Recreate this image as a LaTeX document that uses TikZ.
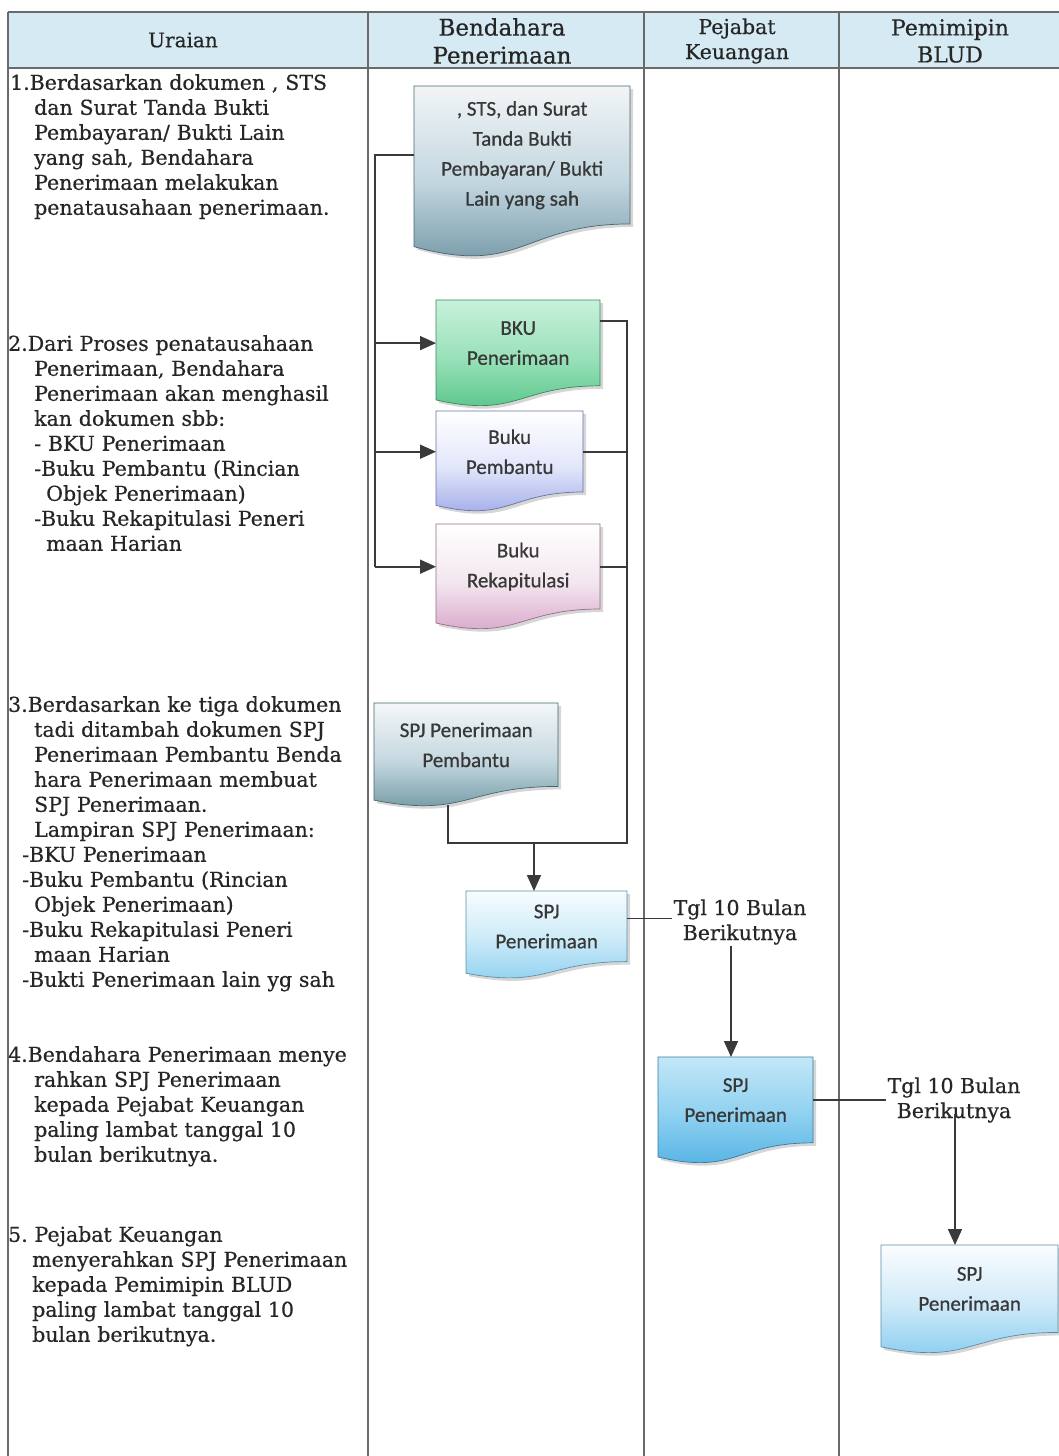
\documentclass[tikz,border=0pt]{standalone}
\usepackage{fontspec}
\setmainfont{DejaVu Serif}[FakeBold=0.5]
\newfontfamily\boxfont{Carlito}[FakeBold=0.7]
\usetikzlibrary{arrows.meta,calc}
\frenchspacing
\definecolor{hdr}{HTML}{D6EAF3}
\definecolor{gridc}{HTML}{6A6A6A}
\definecolor{conn}{HTML}{3A3A3A}
\definecolor{txt}{HTML}{262626}
\definecolor{btxt}{HTML}{383838}
\tikzset{
  gridline/.style={draw=gridc, line width=1.2pt},
  connline/.style={draw=conn, line width=1.6pt},
  arrline/.style={connline, -{Triangle[length=16pt,width=14pt]}},
  uraian/.style={anchor=north west, inner sep=0pt, text width=355pt, align=left, text=txt,
     font=\fontsize{20.5}{25}\selectfont},
  lbl/.style={inner sep=1pt, align=center, text=txt, font=\fontsize{20.5}{25}\selectfont},
  boxtext/.style={anchor=north west, inner sep=0pt, align=center, text=btxt,
     font=\boxfont\fontsize{21}{30}\selectfont},
}
% #1 name, #2 left, #3 top, #4 width, #5 height, #6 top colour, #7 middle colour, #8 bottom colour, #9 text
\newcommand{\docbox}[9]{%
  \definecolor{#1ctop}{HTML}{#6}%
  \definecolor{#1cmid}{HTML}{#7}%
  \definecolor{#1cbot}{HTML}{#8}%
  \fill[black, opacity=0.16] ({#2+3},{#3+3}) -- ({#2+#4+3},{#3+3}) -- ({#2+#4+3},{#3+3+0.802*#5})
     .. controls ({#2+3+0.5*#4},{#3+3+0.802*#5}) and ({#2+3+0.5*#4},{#3+3+1.1075*#5}) .. ({#2+3},{#3+3+0.934*#5}) -- cycle;
  \shade[top color=#1ctop, bottom color=#1cbot, middle color=#1cmid, draw=#1cbot!70!black, line width=0.7pt]
     (#2,#3) -- ({#2+#4},#3) -- ({#2+#4},{#3+0.802*#5})
     .. controls ({#2+0.5*#4},{#3+0.802*#5}) and ({#2+0.5*#4},{#3+1.1075*#5}) .. (#2,{#3+0.934*#5}) -- cycle;
  \node[boxtext, minimum width=#4pt, minimum height={0.802*#5pt}] (#1) at (#2,#3) {#9};
}
\begin{document}
\begin{tikzpicture}[x=1pt,y=-1pt]
\useasboundingbox (0,0) rectangle (1059,1456);
\fill[white] (0,0) rectangle (1059,1456);
% header
\fill[hdr] (8,12) rectangle (1059,68);
\draw[gridline] (8,12) -- (1059,12);
\draw[gridline] (8,68) -- (1059,68);
\foreach \xx in {8,368,644,839} { \draw[gridline] (\xx,12) -- (\xx,1456); }
\node[lbl, font=\fontsize{20}{25}\selectfont] (hU) at (183,40) {Uraian};
\node[lbl, font=\fontsize{23}{28}\selectfont] (hB) at (502,41) {Bendahara\\Penerimaan};
\node[lbl, font=\fontsize{20.5}{25}\selectfont] (hP) at (737,41) {Pejabat\\Keuangan};
\node[lbl, font=\fontsize{22}{27}\selectfont] (hL) at (950,41) {Pemimipin\\BLUD};

% left column text
\node[uraian] (blk1) at (10,74) {1.Berdasarkan dokumen , STS\\
\hspace*{24pt}dan Surat Tanda Bukti\\
\hspace*{24pt}Pembayaran/ Bukti Lain\\
\hspace*{24pt}yang sah, Bendahara\\
\hspace*{24pt}Penerimaan melakukan\\
\hspace*{24pt}penatausahaan penerimaan.};
\node[uraian] (blk2) at (8,335) {2.Dari Proses penatausahaan\\
\hspace*{26pt}Penerimaan, Bendahara\\
\hspace*{26pt}Penerimaan akan menghasil\\
\hspace*{26pt}kan dokumen sbb:\\
\hspace*{26pt}- BKU Penerimaan\\
\hspace*{26pt}-Buku Pembantu (Rincian\\
\hspace*{38pt}Objek Penerimaan)\\
\hspace*{26pt}-Buku Rekapitulasi Peneri\\
\hspace*{38pt}maan Harian};
\node[uraian] (blk3) at (8,696) {3.Berdasarkan ke tiga dokumen\\
\hspace*{26pt}tadi ditambah dokumen SPJ\\
\hspace*{26pt}Penerimaan Pembantu Benda\\
\hspace*{26pt}hara Penerimaan membuat\\
\hspace*{26pt}SPJ Penerimaan.\\
\hspace*{26pt}Lampiran SPJ Penerimaan:\\
\hspace*{14pt}-BKU Penerimaan\\
\hspace*{14pt}-Buku Pembantu (Rincian\\
\hspace*{26pt}Objek Penerimaan)\\
\hspace*{14pt}-Buku Rekapitulasi Peneri\\
\hspace*{26pt}maan Harian\\
\hspace*{14pt}-Bukti Penerimaan lain yg sah};
\node[uraian] (blk4) at (8,1046) {4.Bendahara Penerimaan menye\\
\hspace*{26pt}rahkan SPJ Penerimaan\\
\hspace*{26pt}kepada Pejabat Keuangan\\
\hspace*{26pt}paling lambat tanggal 10\\
\hspace*{26pt}bulan berikutnya.};
\node[uraian] (blk5) at (8,1226) {5. Pejabat Keuangan\\
\hspace*{24pt}menyerahkan SPJ Penerimaan\\
\hspace*{24pt}kepada Pemimipin BLUD\\
\hspace*{24pt}paling lambat tanggal 10\\
\hspace*{24pt}bulan berikutnya.};

% documents
\docbox{doc1}{414}{86}{216}{172}{F2F5F6}{C3D7E0}{6A90A0}{, STS, dan Surat\\Tanda Bukti\\Pembayaran/ Bukti\\Lain yang sah}
\docbox{bku}{436}{300}{164}{107}{C8F1DC}{98E0B8}{4FC282}{BKU\\Penerimaan}
\docbox{pemb}{436}{411}{147}{101}{FFFFFF}{E2E6FA}{97A3E6}{Buku\\Pembantu}
\docbox{rekap}{436}{524}{164}{106}{FFFFFF}{F3E6EF}{D49DC4}{Buku\\Rekapitulasi}
\docbox{spjp}{374}{703}{184}{104}{F4F7F8}{C5D8E0}{66909C}{SPJ Penerimaan\\Pembantu}
\docbox{spj}{466}{891}{161}{88}{F8FCFE}{CBEAF8}{86CDEF}{SPJ\\Penerimaan}
\docbox{b3}{658}{1057}{155}{107}{C4E7F8}{8DD0F0}{4BAEE2}{SPJ\\Penerimaan}
\docbox{b4}{881}{1245}{177}{109}{FBFDFF}{CEE9F8}{7FC9EF}{SPJ\\Penerimaan}

% connectors, lane 2
\coordinate (jL) at (375,0);
\coordinate (jR) at (627,0);
\coordinate (jB) at (0,843);
\coordinate (spjpOut) at (448,805);
\coordinate (merge) at (534,843);
\draw[connline] (doc1.west) -- (doc1.west -| jL) -- (rekap.west -| jL);
\draw[arrline] (bku.west -| jL) -- (bku.west);
\draw[arrline] (pemb.west -| jL) -- (pemb.west);
\draw[arrline] (rekap.west -| jL) -- (rekap.west);
\draw[connline] ([yshift=22pt]bku.east) -- ([yshift=22pt]bku.east -| jR) -- (jR |- jB) -- (spjpOut |- jB) -- (spjpOut);
\draw[connline] (pemb.east) -- (pemb.east -| jR);
\draw[connline] (rekap.east) -- (rekap.east -| jR);
\draw[arrline] (merge) -- (merge |- spj.north);

% to Pejabat Keuangan
\node[lbl] (t1) at (740,922) {Tgl 10 Bulan\\Berikutnya};
\coordinate (v1) at (731,0);
\draw[connline] ([yshift=8pt]spj.east) -- ([yshift=8pt]spj.east -| t1.west);
\draw[arrline] (t1.south -| v1) -- (b3.north -| v1);

% to Pemimipin BLUD
\node[lbl] (t2) at (954,1100) {Tgl 10 Bulan\\Berikutnya};
\coordinate (v2) at (955,0);
\draw[connline] (b3.east) -- (b3.east -| t2.west);
\draw[arrline] ([yshift=-14pt]t2.center -| v2) -- (b4.north -| v2);
\end{tikzpicture}
\end{document}
